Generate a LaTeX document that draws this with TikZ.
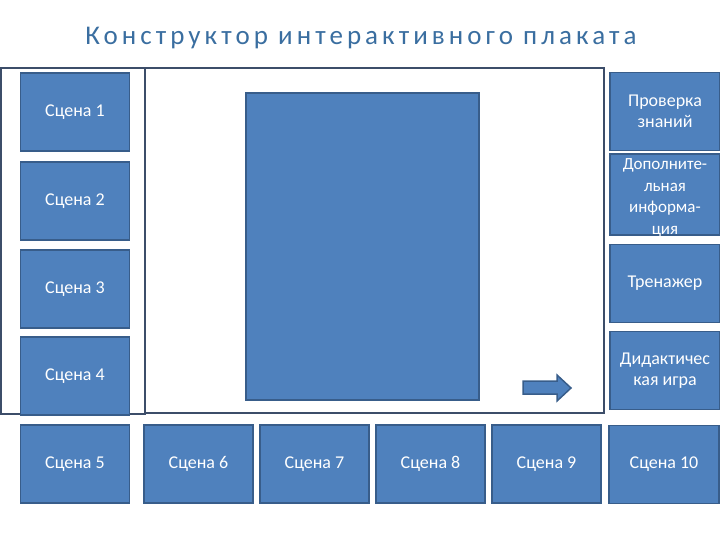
\documentclass[tikz,border=0pt]{standalone}
\usepackage{fontspec}
\setmainfont{Carlito}
\definecolor{boxfill}{HTML}{4F81BD}
\definecolor{boxline}{HTML}{385D8A}
\definecolor{frameline}{HTML}{3C4D69}
\definecolor{titlecol}{HTML}{3A6EA0}
\tikzset{
  box/.style={draw=boxline, fill=boxfill, line width=1.5pt, text=white,
    minimum width=109pt, minimum height=78pt, inner sep=1pt,
    font=\fontsize{18}{21}\selectfont, align=center},
  rbox/.style={box, minimum width=110pt},
  frame/.style={draw=frameline, line width=2pt},
}
\begin{document}
\begin{tikzpicture}[x=1pt,y=-1pt]
\useasboundingbox (0,0) rectangle (720,540);
% title
\node (title) at (361,38) {\fontsize{27}{30}\selectfont\addfontfeatures{LetterSpace=15}\color{titlecol}Конструктор интерактивного плаката};
% frames
\draw[frame] (1,68) rectangle (145,414);
\draw[frame] (145,68) rectangle (604,413);
% central area
\node[draw=boxline, fill=boxfill, line width=1.5pt, minimum width=233pt, minimum height=307pt, inner sep=0pt] (screen) at (362.5,246.5) {};
% arrow
\draw[draw=boxline, fill=boxfill, line width=1.5pt]
  (523,381) -- (557,381) -- (557,375) -- (571,388) -- (557,401) -- (557,394) -- (523,394) -- cycle;
% left column
\node[box] (s1) at (75,112) {Сцена 1};
\node[box] (s2) at (75,201) {Сцена 2};
\node[box] (s3) at (75,289) {Сцена 3};
\node[box] (s4) at (75,376) {Сцена 4};
\node[box] (s5) at (75,464) {Сцена 5};
% bottom row
\node[box] (s6) at (198.5,464) {Сцена 6};
\node[box] (s7) at (314.5,464) {Сцена 7};
\node[box] (s8) at (430.5,464) {Сцена 8};
\node[box] (s9) at (546.5,464) {Сцена 9};
\node[rbox] (s10) at (664,464.5) {Сцена 10};
% right column
\node[rbox] (r1) at (665,111.5) {Проверка\\знаний};
\node[rbox, minimum height=81pt] (r2) at (665,194.5) {};
\node[text=white, font=\fontsize{17}{21.5}\selectfont, align=center] (r2t) at (665,198) {Дополните-\\льная\\информа-\\ция};
\node[rbox] (r3) at (665,283.5) {Тренажер};
\node[rbox] (r4) at (665,370.5) {Дидактичес\\кая игра};
\end{tikzpicture}
\end{document}
